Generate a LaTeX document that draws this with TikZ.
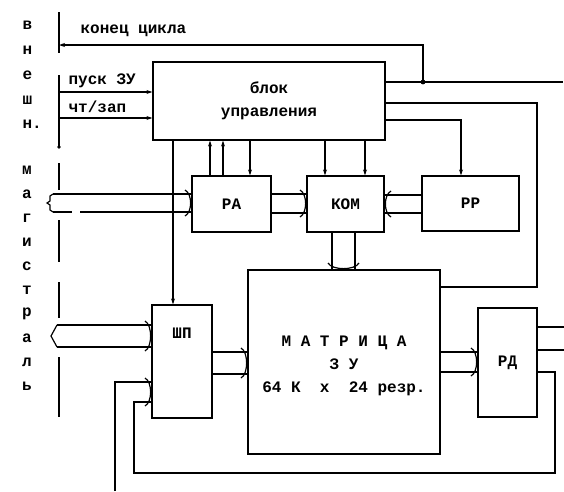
\documentclass[tikz,border=0pt]{standalone}
\usepackage{fontspec}
\setmainfont{Liberation Mono}
\usetikzlibrary{arrows.meta}
\newcommand\bkR[3]{\draw (#1-6,#2-4) .. controls (#1+1.5,#2) and (#1+1.5,#3) .. (#1-6,#3+4);}
\newcommand\bkL[3]{\draw (#1+6,#2-4) .. controls (#1-1.5,#2) and (#1-1.5,#3) .. (#1+6,#3+4);}
\newcommand\bkD[3]{\draw (#2-4,#1-6) .. controls (#2,#1+1.5) and (#3,#1+1.5) .. (#3+4,#1-6);}
\begin{document}
\begin{tikzpicture}[x=1pt,y=-1pt,line width=1.2pt,
  box/.style={draw,inner sep=0pt,font=\bfseries\fontsize{16}{23}\selectfont,align=center},
  txt/.style={inner sep=0pt,font=\bfseries\fontsize{16}{18}\selectfont},
  arr/.style={-{Stealth[length=6pt,width=4pt]}}]
\useasboundingbox[fill=white] (0,0) rectangle (564,491);
% boxes
\node[box,minimum width=232pt,minimum height=78pt] (ctrl) at (269,101) {блок\\управления};
\node[box,minimum width=79pt,minimum height=56pt] (ra) at (231.5,204) {РА};
\node[box,minimum width=77pt,minimum height=56pt] (kom) at (345.5,204) {КОМ};
\node[box,minimum width=97pt,minimum height=55pt] (rr) at (470.5,203.5) {РР};
\node[box,minimum width=60pt,minimum height=113pt] (shp) at (182,361.5) {};
\node[txt] (shpt) at (182,333) {ШП};
\node[box,minimum width=192pt,minimum height=184pt] (mat) at (344,362) {};
\node[txt,align=center,font=\bfseries\fontsize{16}{23}\selectfont] (matt) at (344,366) {М~А~Т~Р~И~Ц~А\\З~У\\64~К~~х~~24~резр.};
\node[box,minimum width=59pt,minimum height=109pt] (rd) at (507.5,362.5) {РД};
% side letters
\foreach \t/\yy [count=\i] in {в/25,н/50,е/75,ш/100,н./124} {\node[txt,anchor=west] (vl\i) at (22,\yy) {\t};}
\foreach \t/\yy [count=\i] in {м/170,а/194,г/218,и/242,с/266,т/290,р/314,а/338,л/362,ь/386} {\node[txt] (ml\i) at (27,\yy) {\t};}
% external bus line
\draw (59,12) -- (59,53);
\draw (59,75) -- (59,147);
\fill (59,147) circle (1.8pt);
\draw (59,163) -- (59,190);
\draw (59,220) -- (59,262);
\draw (59,282) -- (59,318);
\draw (59,357) -- (59,417);
% helper coordinates
\coordinate (b1) at (59,45);
\coordinate (j1) at (423,82);
\coordinate (e1) at (563,82);
\coordinate (c103) at (537,103);
\coordinate (c287) at (537,287);
\coordinate (r1) at (461,120);
\coordinate (p1) at (59,92);
\coordinate (p2) at (59,118);
\coordinate (s1) at (173,0);
\coordinate (a1) at (210,0);
\coordinate (a2) at (223,0);
\coordinate (a3) at (250,0);
\coordinate (k1) at (325,0);
\coordinate (k2) at (365,0);
% labels of control lines
\node[txt,anchor=west] (tk) at (80,31) {конец цикла};
\node[txt,anchor=west] (tp) at (68,81) {пуск ЗУ};
\node[txt,anchor=west] (tc) at (68,107) {чт/зап};
% control lines
\draw (ctrl.east |- j1) -- (e1);
\fill (j1) circle (2.4pt);
\draw[arr] (j1) |- (b1);
\draw (ctrl.east |- c103) -- (c103) -- (c287) -- (mat.east |- c287);
\draw[arr] (ctrl.east |- r1) -| (rr.north -| r1);
\draw[arr] (p1) -- (ctrl.west |- p1);
\draw[arr] (p2) -- (ctrl.west |- p2);
\draw[arr] (ctrl.south -| s1) -- (shp.north -| s1);
\draw[arr] (ra.north -| a1) -- (ctrl.south -| a1);
\draw[arr] (ra.north -| a2) -- (ctrl.south -| a2);
\draw[arr] (ctrl.south -| a3) -- (ra.north -| a3);
\draw[arr] (ctrl.south -| k1) -- (kom.north -| k1);
\draw[arr] (ctrl.south -| k2) -- (kom.north -| k2);
% bus: magistral -> RA
\coordinate (u1) at (53,194);
\coordinate (u2) at (53,212);
\coordinate (u2g) at (72,212);
\coordinate (u2h) at (80,212);
\draw (u1) -- (ra.west |- u1);
\draw (u2) -- (u2g);
\draw (u2h) -- (ra.west |- u2);
\draw (u1) -- (50,196) -- (50,201) -- (47,203) -- (50,205) -- (50,210) -- (u2);
\bkR{191}{194}{212}
% bus: RA -> KOM
\coordinate (w1) at (0,194);
\coordinate (w2) at (0,213);
\draw (ra.east |- w1) -- (kom.west |- w1);
\draw (ra.east |- w2) -- (kom.west |- w2);
\bkR{306}{194}{213}
% bus: RR -> KOM
\coordinate (q1) at (0,195);
\coordinate (q2) at (0,213);
\draw (rr.west |- q1) -- (kom.east |- q1);
\draw (rr.west |- q2) -- (kom.east |- q2);
\bkL{385}{195}{213}
% bus: KOM -> MAT
\coordinate (v1) at (332,0);
\coordinate (v2) at (355,0);
\draw (kom.south -| v1) -- (mat.north -| v1);
\draw (kom.south -| v2) -- (mat.north -| v2);
\bkD{269}{332}{355}
% bus: magistral <-> SHP
\coordinate (m1) at (57,325);
\coordinate (m2) at (57,347);
\draw (m1) -- (shp.west |- m1);
\draw (m2) -- (shp.west |- m2);
\draw (m1) -- (51,336) -- (m2);
\bkR{151}{325}{347}
% bus: SHP -> MAT
\coordinate (n1) at (0,352);
\coordinate (n2) at (0,374);
\draw (shp.east |- n1) -- (mat.west |- n1);
\draw (shp.east |- n2) -- (mat.west |- n2);
\bkR{247}{352}{374}
% bus: MAT -> RD
\coordinate (o1) at (0,352);
\coordinate (o2) at (0,372);
\draw (mat.east |- o1) -- (rd.west |- o1);
\draw (mat.east |- o2) -- (rd.west |- o2);
\bkR{477}{352}{372}
% bus: RD -> right
\coordinate (d1) at (564,327);
\coordinate (d2) at (564,350);
\draw (rd.east |- d1) -- (d1);
\draw (rd.east |- d2) -- (d2);
% feedback lines
\coordinate (f1) at (555,372);
\coordinate (f2) at (555,473);
\coordinate (f3) at (134,473);
\coordinate (f4) at (134,402);
\draw (rd.east |- f1) -- (f1) -- (f2) -- (f3) -- (f4) -- (shp.west |- f4);
\coordinate (g1) at (115,491);
\coordinate (g2) at (115,382);
\draw (g1) -- (g2) -- (shp.west |- g2);
\bkR{151}{382}{402}
\end{tikzpicture}
\end{document}
